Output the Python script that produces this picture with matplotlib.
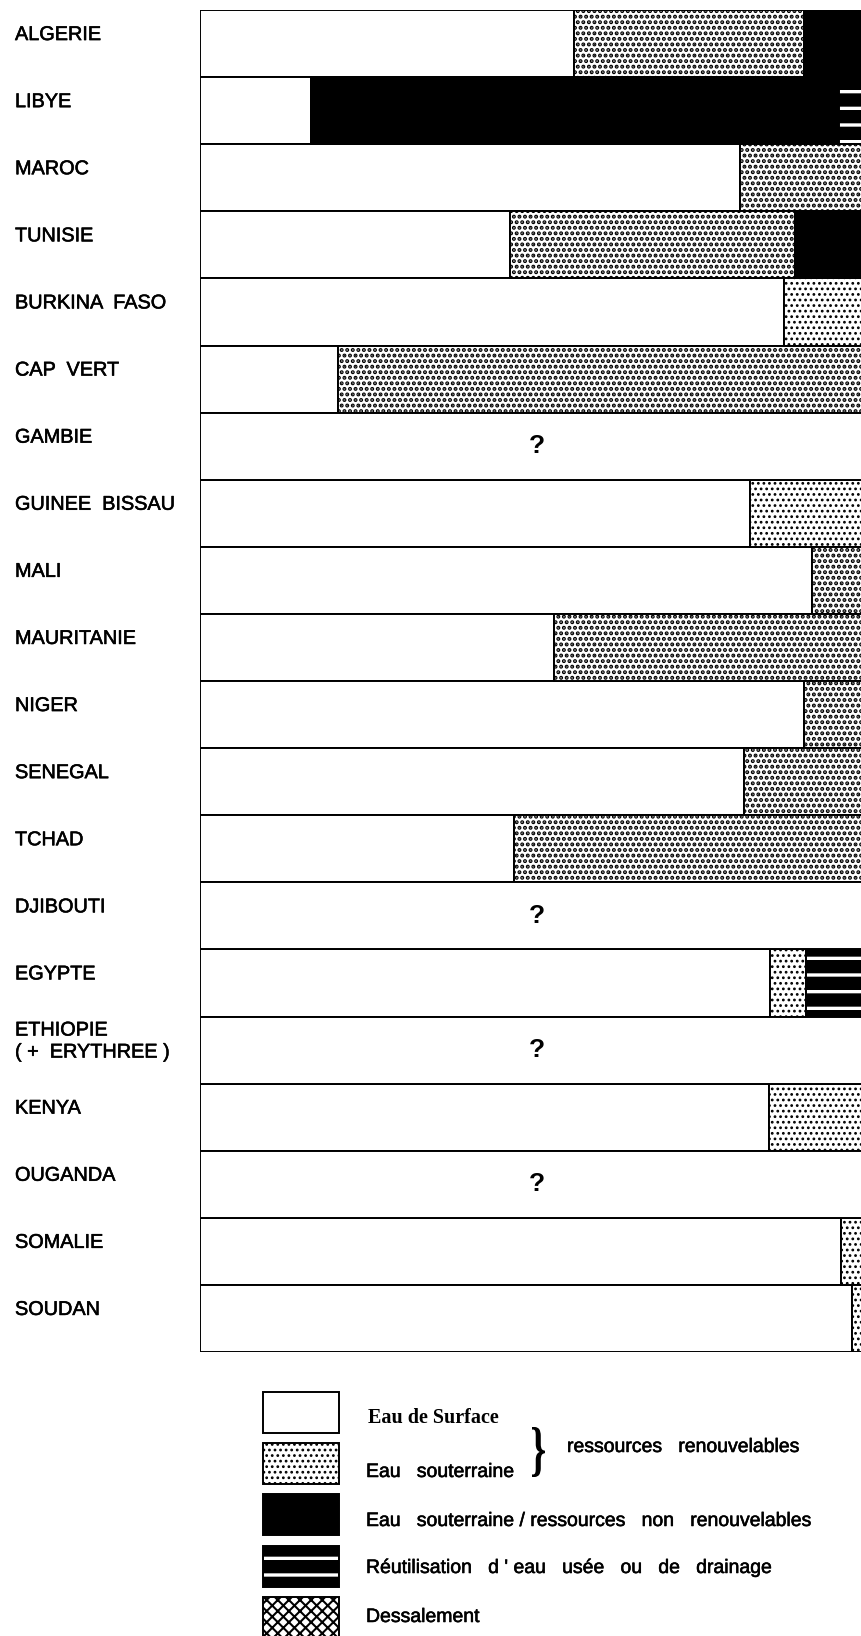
import matplotlib
matplotlib.use("Agg")
import matplotlib.pyplot as plt
import matplotlib.transforms as mtransforms
import matplotlib.patheffects as pe
import numpy as np
from matplotlib.patches import Rectangle, PathPatch
from matplotlib.textpath import TextPath
from matplotlib.font_manager import FontProperties

countries = ["ALGERIE", "LIBYE", "MAROC", "TUNISIE", "BURKINA  FASO", "CAP  VERT",
             "GAMBIE", "GUINEE  BISSAU", "MALI", "MAURITANIE", "NIGER", "SENEGAL",
             "TCHAD", "DJIBOUTI", "EGYPTE", "ETHIOPIE\n( +  ERYTHREE )", "KENYA",
             "OUGANDA", "SOMALIE", "SOUDAN"]

# parts of the resources, % (nan = unknown, shown with "?")
surface = [53.3, 15.8, 76.9, 44.2, 83.2, 19.7, np.nan, 78.3, 87.2, 50.4,
           86.0, 77.5, 44.7, np.nan, 81.2, np.nan, 81.1, np.nan, 91.3, 92.9]
ground_renew = [32.8, 0, 23.1, 40.5, 16.8, 80.3, np.nan, 21.7, 12.8, 49.6,
                14.0, 22.5, 55.3, np.nan, 5.1, np.nan, 18.9, np.nan, 8.7, 7.1]
ground_nonrenew = [13.9, 75.2, 0, 15.3, 0, 0, np.nan, 0, 0, 0,
                   0, 0, 0, np.nan, 0, np.nan, 0, np.nan, 0, 0]
reuse = [0, 9.0, 0, 0, 0, 0, np.nan, 0, 0, 0,
         0, 0, 0, np.nan, 13.7, np.nan, 0, np.nan, 0, 0]
desal = [0, 0, 0, 0, 0, 0, np.nan, 0, 0, 0,
         0, 0, 0, np.nan, 0, np.nan, 0, np.nan, 0, 0]

# screen used for the groundwater block of each row (dense / sparse halftone)
gw_sparse = [False, False, False, False, True, False, False, True, False, False,
             False, False, False, False, True, False, True, False, True, True]

W, H, DPI = 862, 1636, 100
EDGE = 1.4
INK = [pe.withStroke(linewidth=0.4, foreground="black")]

plt.rcParams["font.family"] = ["Liberation Sans", "DejaVu Sans"]
fig = plt.figure(figsize=(W / DPI, H / DPI), dpi=DPI)


def px(x0, y0, w, h):
    return [x0 / W, 1 - (y0 + h) / H, w / W, h / H]


def set_hlw(p, lw):
    if hasattr(p, "set_hatch_linewidth"):
        p.set_hatch_linewidth(lw)


def style(kind, sparse=False):
    if kind == "surface":
        return dict(facecolor="white", hatch=None, hlw=1.0)
    if kind == "ground_renew":
        if sparse:
            return dict(facecolor="white", hatch="...", hlw=1.2)
        return dict(facecolor="white", hatch="...", hlw=2.0)
    if kind == "ground_nonrenew":
        return dict(facecolor="black", hatch=None, hlw=1.0)
    if kind == "reuse":
        return dict(facecolor="black", hatch="-", hlw=2.4, hcolor="white")
    return dict(facecolor="white", hatch="xxx", hlw=1.5)


# ---- bars (axes runs past the right edge of the page, as in the scan) ----
ax = fig.add_axes(px(200, 10, 702, 1342))
ax.set_xlim(0, 100)
ax.set_ylim(len(countries) - 0.5, -0.5)
ax.axis("off")

y = np.arange(len(countries))
series = [("surface", surface), ("ground_renew", ground_renew),
          ("ground_nonrenew", ground_nonrenew), ("reuse", reuse), ("desal", desal)]
left = np.zeros(len(countries))
for kind, vals in series:
    vals = np.asarray(vals, dtype=float)
    for i in range(len(countries)):
        v = vals[i]
        if np.isnan(v) or v <= 0:
            continue
        st = style(kind, gw_sparse[i])
        if st.get("hcolor"):
            # black block with white stripes, then a black outline on top
            b = ax.barh(y[i], v, left=left[i], height=1.0, color="black",
                        edgecolor="white", linewidth=0, hatch=st["hatch"])
            set_hlw(b.patches[0], st["hlw"])
            ax.barh(y[i], v, left=left[i], height=1.0, fill=False,
                    edgecolor="black", linewidth=EDGE)
        else:
            b = ax.barh(y[i], v, left=left[i], height=1.0, color=st["facecolor"],
                        edgecolor="black", linewidth=EDGE, hatch=st["hatch"])
            if st["hatch"]:
                set_hlw(b.patches[0], st["hlw"])
        left[i] += v

unknown = np.isnan(np.asarray(surface, dtype=float))
for i in np.where(unknown)[0]:
    ax.barh(y[i], 100, height=1.0, color="white", edgecolor="black", linewidth=EDGE)
    ax.text(48, y[i], "?", ha="center", va="center", fontsize=19, fontweight="bold")

# country names at the left
lab_tr = mtransforms.offset_copy(
    mtransforms.blended_transform_factory(fig.transFigure, ax.transData),
    fig=fig, y=9, units="dots")
for i, name in enumerate(countries):
    ax.text(15 / W, y[i], name, transform=lab_tr, ha="left", va="center",
            fontsize=14.3, clip_on=False, linespacing=1.2, path_effects=INK)

# ---- legend ----
lg = fig.add_axes(px(0, 1360, 862, 276))
lg.set_xlim(0, W)
lg.set_ylim(H, 1360)
lg.axis("off")

box_tops = [1392, 1443, 1494, 1546, 1597]
box_kinds = ["surface", "ground_renew", "ground_nonrenew", "reuse", "desal"]
bx, bw, bh = 263, 76, 41
for top, kind in zip(box_tops, box_kinds):
    st = style(kind, True)
    if st.get("hcolor"):
        r = Rectangle((bx, top), bw, bh, facecolor="black", edgecolor="white",
                      linewidth=0, hatch=st["hatch"])
        set_hlw(r, st["hlw"])
        lg.add_patch(r)
        lg.add_patch(Rectangle((bx, top), bw, bh, fill=False,
                               edgecolor="black", linewidth=EDGE))
    else:
        r = Rectangle((bx, top), bw, bh, facecolor=st["facecolor"],
                      edgecolor="black", linewidth=EDGE, hatch=st["hatch"])
        if st["hatch"]:
            set_hlw(r, st["hlw"])
        lg.add_patch(r)

leg_font = dict(fontsize=14, va="baseline", ha="left", path_effects=INK)
lg.text(368, 1423, "Eau de Surface", family="Liberation Serif",
        fontweight="bold", fontsize=14.5, va="baseline", ha="left")
lg.text(366, 1477, "Eau   souterraine", **leg_font)
lg.text(567, 1452, "ressources   renouvelables", **leg_font)
lg.text(366, 1526, "Eau   souterraine / ressources   non   renouvelables", **leg_font)
lg.text(366, 1573, "Réutilisation   d ' eau   usée   ou   de   drainage", **leg_font)
lg.text(366, 1622, "Dessalement", **leg_font)

# curly brace squeezed into its box
tp = TextPath((0, 0), "}", size=50,
              prop=FontProperties(family="Liberation Serif", weight="bold"))
ext = tp.get_extents()
cx0, cy0, cw, ch = 532, 1427, 13, 50
tr = (mtransforms.Affine2D()
      .translate(-ext.x0, -ext.y0)
      .scale(cw / ext.width, -ch / ext.height)
      .translate(cx0, cy0 + ch))
lg.add_patch(PathPatch(tr.transform_path(tp), facecolor="black", edgecolor="none"))

fig.savefig("out.png", dpi=DPI)
